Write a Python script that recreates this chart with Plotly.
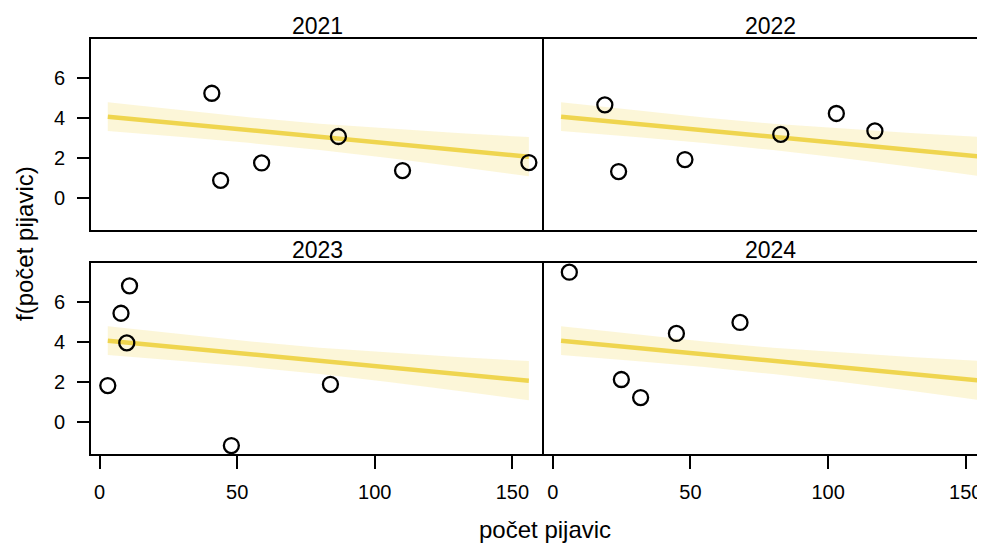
import plotly.graph_objects as go

# ---- data ----
years = ["2021", "2022", "2023", "2024"]

x_2021 = [40.8, 44.0, 58.9, 86.8, 110.1, 156.0]
y_2021 = [5.23, 0.88, 1.75, 3.07, 1.37, 1.77]

x_2022 = [18.9, 23.9, 48.0, 82.8, 103.0, 117.0]
y_2022 = [4.65, 1.32, 1.92, 3.18, 4.22, 3.35]

x_2023 = [3.0, 7.8, 10.9, 9.9, 47.9, 83.9]
y_2023 = [1.82, 5.43, 6.80, 3.95, -1.18, 1.88]

x_2024 = [6.0, 24.9, 31.9, 44.9, 68.0]
y_2024 = [7.48, 2.12, 1.22, 4.42, 4.97]

fit_x = [3, 156]
fit_y = [4.06, 2.06]

band_x = [3, 30, 55, 80, 105, 130, 156]
band_upper = [4.78, 4.37, 4.02, 3.71, 3.46, 3.24, 3.04]
band_lower = [3.34, 3.05, 2.74, 2.39, 2.00, 1.56, 1.08]

x_ticks = [0, 50, 100, 150]
y_ticks = [0, 2, 4, 6]

xs = [x_2021, x_2022, x_2023, x_2024]
ys = [y_2021, y_2022, y_2023, y_2024]

# ---- layout geometry (page has an 8px body margin) ----
OFF = 8
W, H = 985 - OFF, 544 - OFF
ML, MR, MT, MB = 91 - OFF, 0, 39 - OFF, 90
PW = W - ML - MR
PH = H - MT - MB
split = (544 - OFF - ML) / PW
top_dom = [(454 - 230) / PH, 1.0]
bot_dom = [0.0, (454 - 263) / PH]

FONT = "Liberation Sans, Arial, Helvetica, sans-serif"
LINE_COL = "#EFD54F"
BAND_COL = "rgba(240,214,79,0.22)"

fig = go.Figure()

axes = [("x", "y"), ("x2", "y2"), ("x3", "y3"), ("x4", "y4")]
for i, (xa, ya) in enumerate(axes):
    fig.add_trace(go.Scatter(x=band_x + band_x[::-1], y=band_upper + band_lower[::-1],
                             fill="toself", fillcolor=BAND_COL, line=dict(width=0),
                             mode="lines", hoverinfo="skip", showlegend=False,
                             xaxis=xa, yaxis=ya))
    fig.add_trace(go.Scatter(x=fit_x, y=fit_y, mode="lines",
                             line=dict(color=LINE_COL, width=4.5), showlegend=False,
                             xaxis=xa, yaxis=ya))
    fig.add_trace(go.Scatter(x=xs[i], y=ys[i], mode="markers",
                             marker=dict(symbol="circle-open", size=15, color="black",
                                         line=dict(width=2.3, color="black")),
                             showlegend=False, xaxis=xa, yaxis=ya))

left_range = [-3.1, 161.5]
right_range = [-3.2, 157.0]
y_range = [-1.6, 7.94]

TICKFONT = dict(family=FONT, size=20, color="black")
common_x = dict(showline=True, linecolor="black", linewidth=2, mirror=True,
                showgrid=False, zeroline=False, tickfont=TICKFONT)
common_y = dict(showline=True, linecolor="black", linewidth=2, mirror=False,
                showgrid=False, zeroline=False, range=y_range, tickfont=TICKFONT)

xt_on = dict(ticks="outside", ticklen=13, tickwidth=2, tickcolor="black",
             tickvals=x_ticks, ticktext=[str(v) for v in x_ticks], ticklabelstandoff=6)
xt_off = dict(ticks="", showticklabels=False)
yt_on = dict(ticks="outside", ticklen=12, tickwidth=2, tickcolor="black",
             tickvals=y_ticks, ticktext=[str(v) for v in y_ticks], ticklabelstandoff=8)
yt_off = dict(ticks="", showticklabels=False)

fig.update_layout(
    width=W, height=H,
    margin=dict(l=ML, r=MR, t=MT, b=MB),
    plot_bgcolor="white", paper_bgcolor="white",
    xaxis=dict(domain=[0, split], range=left_range, anchor="y", **common_x, **xt_off),
    yaxis=dict(domain=top_dom, anchor="x", **common_y, **yt_on),
    xaxis2=dict(domain=[split, 1], range=right_range, anchor="y2", **common_x, **xt_off),
    yaxis2=dict(domain=top_dom, anchor="x2", **common_y, **yt_off),
    xaxis3=dict(domain=[0, split], range=left_range, anchor="y3", **common_x, **xt_on),
    yaxis3=dict(domain=bot_dom, anchor="x3", **common_y, **yt_on),
    xaxis4=dict(domain=[split, 1], range=right_range, anchor="y4", **common_x, **xt_on),
    yaxis4=dict(domain=bot_dom, anchor="x4", **common_y, **yt_off),
)

def px_to_paper_x(px):
    return (px - OFF - ML) / PW

def px_to_paper_y(py):
    return (H - MB - (py - OFF)) / PH

title_pos = [(317.5, 26), (770.5, 26), (317.5, 250), (770.5, 250)]
for yr, (tx, ty) in zip(years, title_pos):
    fig.add_annotation(text=yr, xref="paper", yref="paper",
                       x=px_to_paper_x(tx), y=px_to_paper_y(ty),
                       xanchor="center", yanchor="middle", showarrow=False,
                       font=dict(family=FONT, size=23, color="black"))

fig.add_annotation(text="f(počet pijavic)", xref="paper", yref="paper",
                   x=px_to_paper_x(24), y=px_to_paper_y(244), textangle=-90,
                   xanchor="center", yanchor="middle", showarrow=False,
                   font=dict(family=FONT, size=24, color="black"))
fig.add_annotation(text="počet pijavic", xref="paper", yref="paper",
                   x=px_to_paper_x(545), y=px_to_paper_y(529),
                   xanchor="center", yanchor="middle", showarrow=False,
                   font=dict(family=FONT, size=24, color="black"))

fig.write_html("out.html")
